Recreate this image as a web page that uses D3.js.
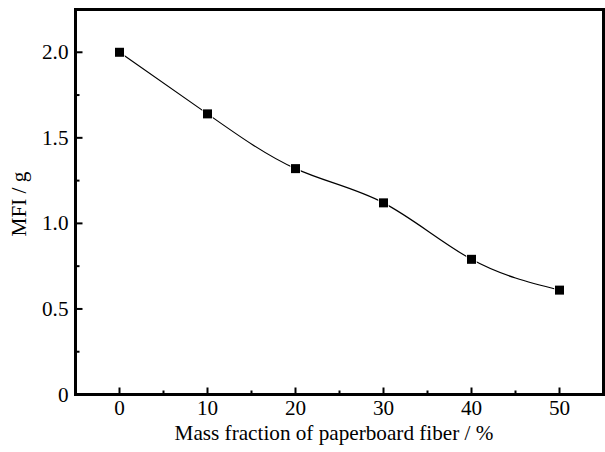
<!DOCTYPE html>
<html><head><meta charset="utf-8">
<script src="https://cdn.jsdelivr.net/npm/d3@7"></script>
<style>body{margin:0;background:#fff}svg{display:block}text{font-family:"Liberation Serif","Times New Roman",serif;fill:#000}</style>
</head><body><svg id="c" width="605" height="452"></svg>
<script>
const massFraction = [0, 10, 20, 30, 40, 50];
const mfi = [2.0, 1.64, 1.32, 1.12, 0.79, 0.61];
const xTicks = [0, 10, 20, 30, 40, 50];
const yTicks = [0, 0.5, 1.0, 1.5, 2.0];
const yTickLabels = ["0", "0.5", "1.0", "1.5", "2.0"];
const xTitle = "Mass fraction of paperboard fiber / %";
const yTitle = "MFI / g";

const svg = d3.select("#c");
const L = 75.5, R = 603.5, T = 9.5, B = 394.5;
const x = d3.scaleLinear().domain([-5, 55]).range([L, R]);
const y = d3.scaleLinear().domain([0, 2.25]).range([B, T]);
const fs = 21.2;

// frame
svg.append("rect").attr("x", L).attr("y", T).attr("width", R - L).attr("height", B - T)
  .attr("fill", "none").attr("stroke", "#000").attr("stroke-width", 3);

// x ticks (inward)
const xMinor = d3.range(-5, 55.01, 5).filter(v => !xTicks.includes(v) && v > -5 && v < 55);
const gx = svg.append("g");
xTicks.forEach(v => gx.append("line").attr("x1", x(v)).attr("x2", x(v)).attr("y1", B).attr("y2", B - 7).attr("stroke", "#000").attr("stroke-width", 2));
xMinor.forEach(v => gx.append("line").attr("x1", x(v)).attr("x2", x(v)).attr("y1", B).attr("y2", B - 4).attr("stroke", "#000").attr("stroke-width", 2));
xTicks.forEach(v => gx.append("text").attr("x", x(v)).attr("y", 414.5).attr("text-anchor", "middle").attr("font-size", fs).text(v));

// y ticks (inward)
const yMinor = [0.25, 0.75, 1.25, 1.75];
const gy = svg.append("g");
yTicks.forEach(v => gy.append("line").attr("x1", L).attr("x2", L + 7).attr("y1", y(v)).attr("y2", y(v)).attr("stroke", "#000").attr("stroke-width", 2));
yMinor.forEach(v => gy.append("line").attr("x1", L).attr("x2", L + 4).attr("y1", y(v)).attr("y2", y(v)).attr("stroke", "#000").attr("stroke-width", 2));
yTicks.forEach((v, i) => gy.append("text").attr("x", 68.5).attr("y", y(v) + 7).attr("text-anchor", "end").attr("font-size", fs).text(yTickLabels[i]));

// titles
svg.append("text").attr("x", 334).attr("y", 439.5).attr("text-anchor", "middle").attr("font-size", fs).text(xTitle);
svg.append("text").attr("transform", "translate(26,204) rotate(-90)").attr("text-anchor", "middle").attr("font-size", fs).text(yTitle);

// line
const data = massFraction.map((d, i) => [d, mfi[i]]);
svg.append("path").datum(data)
  .attr("d", d3.line().x(d => x(d[0])).y(d => y(d[1])).curve(d3.curveNatural))
  .attr("fill", "none").attr("stroke", "#000").attr("stroke-width", 1.2);

// markers
svg.selectAll(".m").data(data).enter().append("rect")
  .attr("x", d => x(d[0]) - 4.5).attr("y", d => y(d[1]) - 4.5)
  .attr("width", 9).attr("height", 9).attr("fill", "#000")
  .attr("stroke", "#fff").attr("stroke-width", 1.5).attr("paint-order", "stroke");
</script></body></html>
